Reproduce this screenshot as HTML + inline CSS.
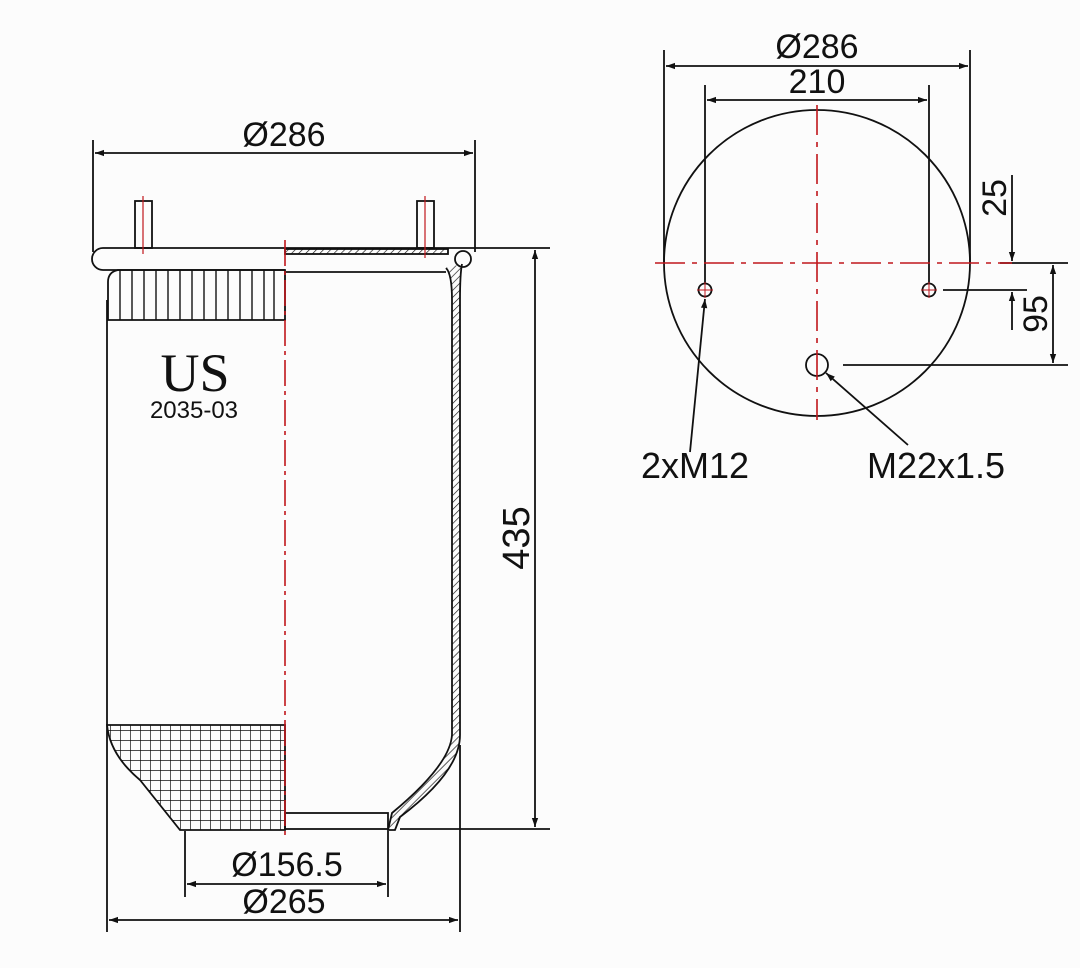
<!DOCTYPE html>
<html><head><meta charset="utf-8"><style>
html,body{margin:0;padding:0;background:#fcfcfc;}
svg{display:block;}
text{font-family:"Liberation Sans",sans-serif;fill:#111;}
</style></head><body>
<svg width="1080" height="968" viewBox="0 0 1080 968" xmlns="http://www.w3.org/2000/svg">
<defs>
<marker id="a" viewBox="0 0 10 10" refX="10" refY="5" markerWidth="16" markerHeight="9" markerUnits="userSpaceOnUse" orient="auto-start-reverse"><path d="M0,1.5 L10,5 L0,8.5 z" fill="#111"/></marker>
<pattern id="grid" width="10" height="10" patternUnits="userSpaceOnUse"><path d="M0,0 H10 M0,0 V10" stroke="#111" stroke-width="1.4" fill="none"/></pattern>
<pattern id="hat" width="5" height="5" patternUnits="userSpaceOnUse" patternTransform="rotate(45)"><path d="M0,0 V5" stroke="#111" stroke-width="1.3"/></pattern>
</defs>
<g stroke="#111" stroke-width="1.8" fill="none">
<line x1="93" y1="140" x2="93" y2="252"/>
<line x1="475" y1="140" x2="475" y2="252"/>
<line x1="95" y1="153" x2="473" y2="153" marker-start="url(#a)" marker-end="url(#a)"/>
<rect x="135" y="201" width="17" height="47"/>
<rect x="417" y="201" width="17" height="47"/>
<path d="M470,248 H103 A11,11 0 0 0 103,270 H285"/>
<line x1="285" y1="272" x2="446" y2="272"/>
<rect x="285" y="249" width="163" height="5" fill="url(#hat)"/>
<path d="M108,320 V282 Q108,272 118,270 H285 V320 Z"/>
<g stroke-width="1.4">
<line x1="120" y1="270" x2="120" y2="320"/><line x1="132" y1="270" x2="132" y2="320"/><line x1="144" y1="270" x2="144" y2="320"/><line x1="156" y1="270" x2="156" y2="320"/><line x1="168" y1="270" x2="168" y2="320"/><line x1="180" y1="270" x2="180" y2="320"/><line x1="192" y1="270" x2="192" y2="320"/><line x1="204" y1="270" x2="204" y2="320"/><line x1="216" y1="270" x2="216" y2="320"/><line x1="228" y1="270" x2="228" y2="320"/><line x1="240" y1="270" x2="240" y2="320"/><line x1="252" y1="270" x2="252" y2="320"/><line x1="264" y1="270" x2="264" y2="320"/><line x1="274" y1="270" x2="274" y2="320"/>
</g>
<line x1="107" y1="300" x2="107" y2="932"/>
<path d="M446,268 Q452,274 452,300 V735 Q450,765 392,813 L388,830 L395,830 L400,817 Q460,772 460,735 V300 Q460,274 462,264" fill="url(#hat)"/>
<circle cx="463" cy="259" r="8"/>
<path d="M107,725 H285 V830 H180 L140,780 Q110,755 107,725 Z" fill="url(#grid)"/>
<rect x="285" y="813" width="103" height="16"/>
<line x1="400" y1="829" x2="550" y2="829"/>
<line x1="470" y1="248" x2="550" y2="248"/>
<line x1="535" y1="250" x2="535" y2="827" marker-start="url(#a)" marker-end="url(#a)"/>
<line x1="185" y1="831" x2="185" y2="897"/>
<line x1="388" y1="831" x2="388" y2="897"/>
<line x1="187" y1="884" x2="386" y2="884" marker-start="url(#a)" marker-end="url(#a)"/>
<line x1="460" y1="745" x2="460" y2="932"/>
<line x1="109" y1="920" x2="458" y2="920" marker-start="url(#a)" marker-end="url(#a)"/>
<circle cx="817" cy="263" r="153"/>
<line x1="664" y1="50" x2="664" y2="263"/>
<line x1="970" y1="50" x2="970" y2="263"/>
<line x1="666" y1="66" x2="968" y2="66" marker-start="url(#a)" marker-end="url(#a)"/>
<line x1="705" y1="85" x2="705" y2="283"/>
<line x1="929" y1="85" x2="929" y2="283"/>
<line x1="707" y1="100" x2="927" y2="100" marker-start="url(#a)" marker-end="url(#a)"/>
<circle cx="705" cy="290" r="6.5"/>
<circle cx="929" cy="290" r="6.5"/>
<circle cx="817" cy="365" r="11"/>
<line x1="1012" y1="175" x2="1012" y2="261" marker-end="url(#a)"/>
<line x1="1012" y1="330" x2="1012" y2="292" marker-end="url(#a)"/>
<line x1="943" y1="290" x2="1027" y2="290"/>
<line x1="1000" y1="263" x2="1068" y2="263"/>
<line x1="843" y1="365" x2="1068" y2="365"/>
<line x1="1053" y1="265" x2="1053" y2="363" marker-start="url(#a)" marker-end="url(#a)"/>
<line x1="690" y1="452" x2="705" y2="299" marker-end="url(#a)"/>
<line x1="908" y1="445" x2="826" y2="373" marker-end="url(#a)"/>
</g>
<g stroke="#c0161c" stroke-width="1.6" fill="none">
<line x1="285" y1="240" x2="285" y2="836" stroke-dasharray="26,5,4,5"/>
<line x1="143" y1="196" x2="143" y2="254" stroke-width="1.2"/>
<line x1="425" y1="196" x2="425" y2="258" stroke-width="1.2"/>
<line x1="655" y1="263" x2="1012" y2="263" stroke-dasharray="30,7,5,7"/>
<line x1="817" y1="105" x2="817" y2="420" stroke-dasharray="30,7,5,7"/>
<line x1="697" y1="290" x2="713" y2="290" stroke-width="1"/><line x1="705" y1="282" x2="705" y2="298" stroke-width="1"/>
<line x1="921" y1="290" x2="937" y2="290" stroke-width="1"/><line x1="929" y1="282" x2="929" y2="298" stroke-width="1"/>
</g>
<text x="284" y="146" font-size="34" text-anchor="middle">Ø286</text>
<text x="195" y="391" font-size="54" text-anchor="middle" style="font-family:'Liberation Serif',serif">US</text>
<text x="194" y="418" font-size="24" text-anchor="middle">2035-03</text>
<text x="529" y="538" font-size="38" text-anchor="middle" transform="rotate(-90 529 538)">435</text>
<text x="287" y="876" font-size="34" text-anchor="middle">Ø156.5</text>
<text x="284" y="913" font-size="34" text-anchor="middle">Ø265</text>
<text x="817" y="58" font-size="34" text-anchor="middle">Ø286</text>
<text x="817" y="93" font-size="34" text-anchor="middle">210</text>
<text x="1006" y="198" font-size="34" text-anchor="middle" transform="rotate(-90 1006 198)">25</text>
<text x="1047" y="314" font-size="34" text-anchor="middle" transform="rotate(-90 1047 314)">95</text>
<text x="695" y="478" font-size="36" text-anchor="middle">2xM12</text>
<text x="936" y="478" font-size="36" text-anchor="middle">M22x1.5</text>
</svg>
</body></html>
